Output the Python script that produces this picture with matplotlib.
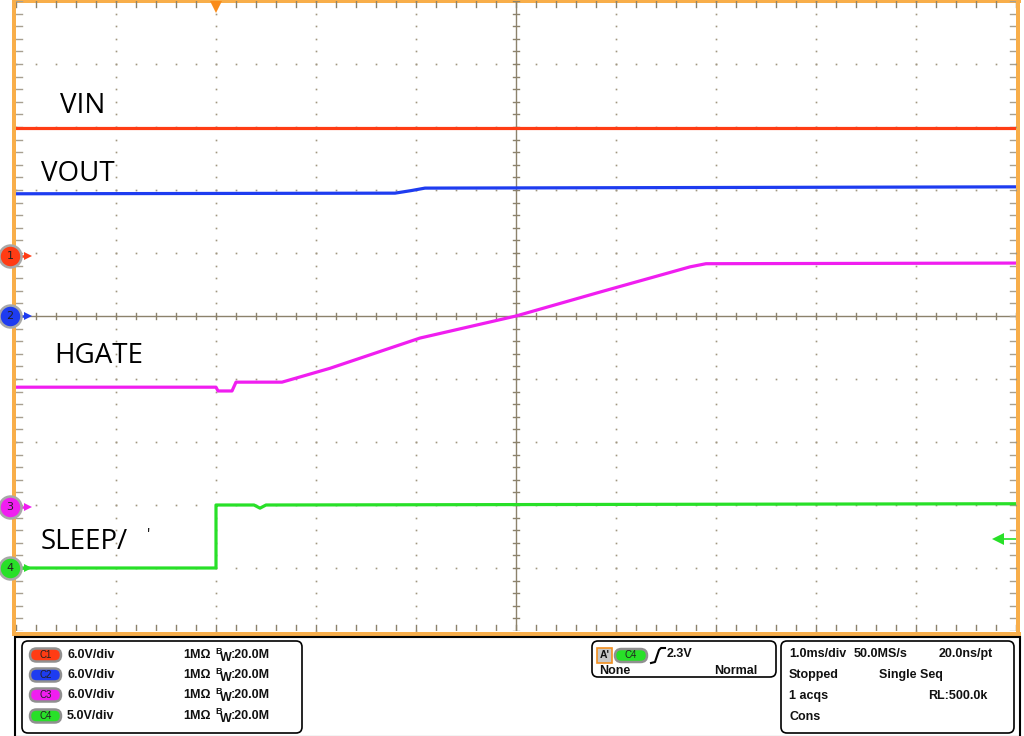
import numpy as np
import matplotlib
matplotlib.use('Agg')
from matplotlib import pyplot as plt
from matplotlib.patches import FancyBboxPatch, Rectangle

# tiempo en divisiones (1.0 ms/div), niveles en divisiones desde el centro
vin_t = [0.0, 10.0]
vin_v = [2.98, 2.98]
vout_t = [0.0, 3.79, 3.95, 4.09, 10.0]
vout_v = [1.94, 1.95, 1.99, 2.03, 2.05]
hgate_t = [0.0, 2.0, 2.02, 2.16, 2.2, 2.66, 3.14, 4.04, 5.0, 5.84, 6.74, 6.9, 10.0]
hgate_v = [-1.13, -1.13, -1.19, -1.19, -1.05, -1.05, -0.83, -0.35, 0.0, 0.38, 0.78, 0.83, 0.84]
sleep_t = [0.0, 2.0, 2.0, 2.02, 2.38, 2.44, 2.5, 10.0]
sleep_v = [-4.0, -4.0, -3.0, -3.0, -3.0, -3.05, -3.0, -2.98]

ch_names = ['1', '2', '3', '4']
ch_offsets = [0.95, 0.0, -3.03, -4.0]
ch_colors = ['#ff3c14', '#1e3cf0', '#f01ef0', '#28e028']
ch_scales = ['6.0V/div', '6.0V/div', '6.0V/div', '5.0V/div']
trig_time = 2.0
trig_level = -3.54

orange = '#f8ae4a'
gridc = '#8c826c'

fig = plt.figure(figsize=(10.24, 7.36), dpi=100)
ov = fig.add_axes([0, 0, 1, 1], zorder=0)
ov.set_xlim(0, 1024)
ov.set_ylim(736, 0)
ov.axis('off')

ax = fig.add_axes([16/1024, 105/736, 1000/1024, 630/736], zorder=1)
ax.set_xlim(0, 10)
ax.set_ylim(-5, 5)
ax.patch.set_alpha(0)
for s in ax.spines.values():
    s.set_visible(False)
ax.set_xticks([])
ax.set_yticks([])

# marco naranja
ov.add_patch(Rectangle((12, 0), 4, 636, color=orange, lw=0))
ov.add_patch(Rectangle((12, 0), 1009, 3, color=orange, lw=0))
ov.add_patch(Rectangle((1016, 0), 4, 636, color=orange, lw=0))
ov.add_patch(Rectangle((12, 632), 1009, 4, color=orange, lw=0))

# reticula punteada
minor_x = np.arange(0, 10.01, 0.2)
minor_y = np.arange(-5, 5.01, 0.2)
for gx in [1, 2, 3, 4, 6, 7, 8, 9]:
    ax.plot(np.full_like(minor_y, gx), minor_y, ls='none', marker='s', ms=1.2, mew=0, color='#a09680')
for gy in [-4, -3, -2, -1, 1, 2, 3, 4]:
    ax.plot(minor_x, np.full_like(minor_x, gy), ls='none', marker='s', ms=1.2, mew=0, color='#a09680')
ax.axhline(0, color=gridc, lw=1)
ax.axvline(5, color=gridc, lw=1)
for mx in minor_x:
    ax.plot([mx, mx], [-0.05, 0.05], color=gridc, lw=1)
    ax.plot([mx, mx], [5, 4.9], color=gridc, lw=1)
    ax.plot([mx, mx], [-5, -4.9], color=gridc, lw=1)
for my in minor_y:
    ax.plot([4.97, 5.03], [my, my], color=gridc, lw=1)
    ax.plot([0, 0.06], [my, my], color='#a8a090', lw=1)
    ax.plot([10, 9.94], [my, my], color='#a8a090', lw=1)

# trazas
ax.plot(vin_t, vin_v, color=ch_colors[0], lw=2.3)
ax.plot(vout_t, vout_v, color=ch_colors[1], lw=2.3)
ax.plot(hgate_t, hgate_v, color=ch_colors[2], lw=2.3)
ax.plot(sleep_t, sleep_v, color=ch_colors[3], lw=2.3)

# marcadores de canal a la izquierda
for name, off, col in zip(ch_names, ch_offsets, ch_colors):
    ax.plot([0.0, 0.1], [off, off], color=col, lw=1.8, clip_on=False, zorder=5)
    ax.plot([0.12], [off], marker='>', ms=6, color=col, mew=0, clip_on=False, zorder=5)
    ax.scatter([-0.06], [off], s=250, color=col, edgecolor='#a8a8a8', lw=1.8, clip_on=False, zorder=6)
    ax.text(-0.06, off, name, ha='center', va='center', fontsize=8, color='#222222', zorder=7,
            clip_on=False)

# disparo
ax.plot([trig_time], [4.9], marker='v', ms=9, color='#f98c1a', mew=0, clip_on=False, zorder=5)
ax.plot([9.84, 10.0], [trig_level, trig_level], color=ch_colors[3], lw=1.2, zorder=5)
ax.plot([9.82], [trig_level], marker='<', ms=8, color=ch_colors[3], mew=0, zorder=5)

# etiquetas de las trazas
lab = dict(fontsize=20, family='Open Sans', va='center', ha='left', color='black')
ov.text(60, 106, 'VIN', **lab)
ov.text(41, 174, 'VOUT', **lab)
ov.text(54, 356, 'HGATE', **lab)
ov.text(41, 542, 'SLEEP/', **lab)
ov.text(147, 535, "'", fontsize=11, family='Open Sans', va='center', color='black')

# panel inferior
ov.add_patch(Rectangle((15, 637), 1005, 100, fill=False, ec='black', lw=1.5))
ov.add_patch(FancyBboxPatch((22, 641), 280, 92, boxstyle='round,pad=0,rounding_size=6',
                            fill=False, ec='black', lw=1.2))
ov.add_patch(FancyBboxPatch((592, 641), 184, 36, boxstyle='round,pad=0,rounding_size=6',
                            fill=False, ec='black', lw=1.2))
ov.add_patch(FancyBboxPatch((781, 641), 233, 92, boxstyle='round,pad=0,rounding_size=6',
                            fill=False, ec='black', lw=1.2))

txt = dict(fontsize=9, family='Liberation Sans', weight='bold', va='center', ha='left', color='#111111')
rows = [655, 675, 695, 716]
for i, (col, sc) in enumerate(zip(ch_colors, ch_scales)):
    yy = rows[i]
    ov.add_patch(FancyBboxPatch((30, yy - 6.5), 31, 13, boxstyle='round,pad=0,rounding_size=6.5',
                                fc=col, ec='#909090', lw=1.8))
    ov.text(45.5, yy, 'C' + ch_names[i], fontsize=7, family='Liberation Sans',
            ha='center', va='center', color='#222222')
    ov.text(67, yy, sc, **txt)
    ov.text(183, yy, '1MΩ', **txt)
    ov.text(215, yy - 4, 'B', fontsize=6.5, family='Liberation Sans', weight='bold',
            va='center', ha='left', color='#111111')
    ov.text(220, yy + 3, 'W', **txt)
    ov.text(231, yy, ':20.0M', **txt)

# caja de disparo
ov.add_patch(Rectangle((597, 648), 15, 15, fc='#c8c8c8', ec='#f39020', lw=1.2))
ov.text(604.5, 655.5, "A'", fontsize=7.5, family='Liberation Sans', weight='bold',
        ha='center', va='center', color='#111111')
ov.add_patch(FancyBboxPatch((615, 649), 32, 13, boxstyle='round,pad=0,rounding_size=6.5',
                            fc=ch_colors[3], ec='#909090', lw=1.8))
ov.text(631, 655.5, 'C4', fontsize=7, family='Liberation Sans', ha='center', va='center',
        color='#222222')
ov.plot([651, 655, 657, 659, 661, 665], [663, 662, 656, 650, 648, 648], color='black', lw=1.5)
ov.text(667, 654, '2.3V', **txt)
ov.text(599, 671, 'None', **txt)
ov.text(714, 671, 'Normal', **txt)

# caja de adquisicion
ov.text(789, 654, '1.0ms/div', **txt)
ov.text(854, 654, '50.0MS/s', **txt)
ov.text(939, 654, '20.0ns/pt', **txt)
ov.text(789, 675, 'Stopped', **txt)
ov.text(879, 675, 'Single Seq', **txt)
ov.text(789, 696, '1 acqs', **txt)
ov.text(928, 696, 'RL:500.0k', **txt)
ov.text(789, 717, 'Cons', **txt)

fig.savefig('out.png', dpi=100)
